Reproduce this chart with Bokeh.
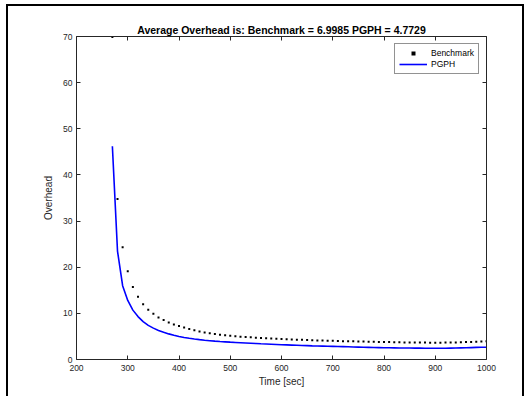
from bokeh.plotting import figure
from bokeh.models import (LinearAxis, Range1d, CustomJSTickFormatter, Legend,
                          LegendItem, FixedTicker, ColumnDataSource)
from bokeh.embed import file_html
from bokeh.resources import INLINE

time_sec = [270, 280, 290, 300, 310, 320, 330, 340, 350, 360, 370, 380, 390, 400,
            410, 420, 430, 440, 450, 460, 470, 480, 490, 500, 510, 520, 530, 540,
            550, 560, 570, 580, 590, 600, 610, 620, 630, 640, 650, 660, 670, 680,
            690, 700, 710, 720, 730, 740, 750, 760, 770, 780, 790, 800, 810, 820,
            830, 840, 850, 860, 870, 880, 890, 900, 910, 920, 930, 940, 950, 960,
            970, 980, 990, 1000]

benchmark = [69.9, 34.8, 24.3, 19.1, 15.7, 13.6, 12.0, 10.8, 9.9, 9.1, 8.55, 8.0, 7.6, 7.27,
             6.95, 6.6, 6.35, 6.08, 5.85, 5.68, 5.52, 5.38, 5.25, 5.15, 5.04, 4.95, 4.87, 4.8,
             4.73, 4.66, 4.6, 4.54, 4.49, 4.44, 4.39, 4.34, 4.3, 4.26, 4.22, 4.18, 4.14, 4.11,
             4.07, 4.04, 4.01, 3.98, 3.95, 3.93, 3.9, 3.88, 3.85, 3.83, 3.81, 3.79, 3.77, 3.75,
             3.73, 3.71, 3.7, 3.68, 3.67, 3.66, 3.65, 3.65, 3.65, 3.66, 3.68, 3.7, 3.73, 3.77,
             3.81, 3.86, 3.91, 3.97]

pgph = [46.2, 23.5, 16.0, 12.8, 10.7, 9.3, 8.2, 7.4, 6.8, 6.3, 5.9, 5.55, 5.25, 5.0,
        4.78, 4.6, 4.44, 4.3, 4.18, 4.08, 3.98, 3.9, 3.83, 3.76, 3.7, 3.64, 3.58, 3.52,
        3.46, 3.4, 3.35, 3.3, 3.25, 3.2, 3.16, 3.12, 3.08, 3.04, 3.0, 2.96, 2.93, 2.9,
        2.87, 2.84, 2.81, 2.78, 2.75, 2.72, 2.69, 2.66, 2.63, 2.6, 2.58, 2.56, 2.54, 2.52,
        2.5, 2.49, 2.48, 2.47, 2.46, 2.45, 2.44, 2.43, 2.43, 2.44, 2.46, 2.48, 2.51, 2.54,
        2.58, 2.62, 2.66, 2.65]

x_ticks = [200, 300, 400, 500, 600, 700, 800, 900, 1000]
y_ticks = [0, 10, 20, 30, 40, 50, 60, 70]

title_text = "Average Overhead is: Benchmark = 6.9985 PGPH = 4.7729"

FONT = "Liberation Sans"
AX = "#262626"

src = ColumnDataSource(dict(t=time_sec, b=benchmark, g=pgph))

p = figure(width=518, height=392, output_backend="svg", toolbar_location=None,
           x_range=Range1d(200, 1000), y_range=Range1d(0, 70),
           min_border_left=68, min_border_right=40, min_border_top=30,
           min_border_bottom=39, x_axis_label="Time [sec]", y_axis_label="Overhead")
p.styles = {"border-left": "2px solid black", "border-top": "2px solid black",
            "border-right": "2px solid black", "margin-left": "6px", "margin-top": "4px"}

p.grid.visible = False
p.outline_line_color = None
p.background_fill_color = "white"
p.border_fill_color = "white"

p.title.text = title_text
p.title.text_font = FONT
p.title.text_font_size = "10.5px"
p.title.text_font_style = "bold"
p.title.text_color = "black"
p.title.align = "center"
p.title.standoff = 2


def style_axis(ax, ticks):
    ax.ticker = FixedTicker(ticks=ticks)
    ax.axis_line_color = AX
    ax.axis_line_width = 1
    ax.major_tick_line_color = AX
    ax.major_tick_in = 4
    ax.major_tick_out = 0
    ax.minor_tick_line_color = None
    ax.major_label_text_font = FONT
    ax.major_label_text_font_size = "8.5px"
    ax.major_label_text_color = AX
    ax.axis_label_text_font = FONT
    ax.axis_label_text_font_size = "10px"
    ax.axis_label_text_font_style = "normal"
    ax.axis_label_text_color = AX


style_axis(p.xaxis[0], x_ticks)
style_axis(p.yaxis[0], y_ticks)
p.xaxis[0].major_label_standoff = 5
p.xaxis[0].axis_label_standoff = 2
p.yaxis[0].major_label_standoff = 4
p.yaxis[0].axis_label_standoff = 6

blank = CustomJSTickFormatter(code="return ''")
top = LinearAxis(formatter=blank, major_label_standoff=0)
right = LinearAxis(formatter=blank, major_label_standoff=0)
style_axis(top, x_ticks)
style_axis(right, y_ticks)
p.add_layout(top, "above")
p.add_layout(right, "right")

r_b = p.scatter("t", "b", source=src, marker="square", size=2,
                fill_color="black", line_color=None)
r_g = p.line("t", "g", source=src, line_color="#0000ff", line_width=1.6)

legend = Legend(items=[LegendItem(label="Benchmark", renderers=[r_b]),
                       LegendItem(label="PGPH", renderers=[r_g])],
                location="top_right", margin=7, padding=4, spacing=1,
                glyph_width=28, glyph_height=10, label_height=10, label_standoff=4,
                label_text_font=FONT, label_text_font_size="8.5px",
                label_text_color="black", border_line_color=AX,
                border_line_width=1, background_fill_color="white",
                background_fill_alpha=1)
p.add_layout(legend)

open("out.html", "w").write(file_html(p, INLINE))
